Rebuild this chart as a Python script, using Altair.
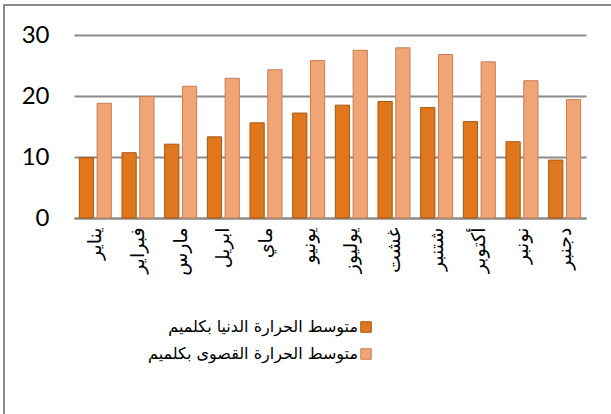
import altair as alt
import pandas as pd

months = ["يناير", "فبراير", "مارس", "ابريل", "ماي", "يونيو",
          "يوليوز", "غشت", "شتنبر", "أكتوبر", "نونبر", "دجنبر"]
min_temps = [9.9, 10.7, 12.1, 13.3, 15.6, 17.2, 18.5, 19.1, 18.1, 15.8, 12.5, 9.5]
max_temps = [18.8, 19.9, 21.6, 22.9, 24.3, 25.8, 27.5, 27.9, 26.8, 25.6, 22.5, 19.4]
series = ["متوسط الحرارة الدنيا بكلميم", "متوسط الحرارة القصوى بكلميم"]
fill_colors = ["#E0771C", "#F2A574"]
edge_colors = ["#A9560F", "#C47E55"]
y_ticks = [0, 10, 20, 30]

rows = []
for i, m in enumerate(months):
    rows.append({"month": m, "series": series[0], "value": min_temps[i]})
    rows.append({"month": m, "series": series[1], "value": max_temps[i]})
df = pd.DataFrame(rows)

GRID = "#8c8c8c"

bars = alt.Chart(df).mark_bar(strokeWidth=1).encode(
    x=alt.X("month:N", sort=months,
            scale=alt.Scale(paddingInner=0.25, paddingOuter=0.125),
            axis=alt.Axis(title=None, labelAngle=270, labelFontSize=19,
                          labelFont="DejaVu Sans", labelColor="black",
                          ticks=False, domainColor=GRID, domainWidth=2,
                          labelPadding=9)),
    xOffset=alt.XOffset("series:N", sort=series,
                        scale=alt.Scale(paddingInner=0.2)),
    y=alt.Y("value:Q", scale=alt.Scale(domain=[0, 30]),
            axis=alt.Axis(values=y_ticks, title=None, grid=True,
                          gridColor=GRID, gridWidth=2, domain=False,
                          ticks=False, labelFontSize=24, labelFont="Lato",
                          labelColor="black", labelPadding=25)),
    fill=alt.Fill("series:N", sort=series,
                  scale=alt.Scale(domain=series, range=fill_colors),
                  legend=alt.Legend(title=None, orient="none",
                                    legendX=284, legendY=284,
                                    direction="vertical", padding=0,
                                    symbolType="square", symbolSize=110,
                                    symbolStrokeWidth=1,
                                    labelFontSize=16, labelFont="DejaVu Sans",
                                    labelColor="black",
                                    labelAlign="right",
                                    labelOffset={"expr": "-16"},
                                    rowPadding=11, labelLimit=400)),
    stroke=alt.Stroke("series:N", sort=series,
                      scale=alt.Scale(domain=series, range=edge_colors),
                      legend=None),
)

border = alt.Chart(pd.DataFrame({"k": [0]})).mark_rect(
    fillOpacity=0, stroke=GRID, strokeWidth=2
).encode(
    x=alt.value(-70), x2=alt.value(560),
    y=alt.value(-30), y2=alt.value(400)
)

chart = alt.layer(border, bars).properties(
    width=512, height=183,
    autosize=alt.AutoSizeParams(type="none"),
    padding={"left": 74, "top": 35, "right": 25, "bottom": 196},
    background="white",
).configure_view(stroke=None)

chart.save("out.html", embed_options={"renderer": "svg", "actions": False})
